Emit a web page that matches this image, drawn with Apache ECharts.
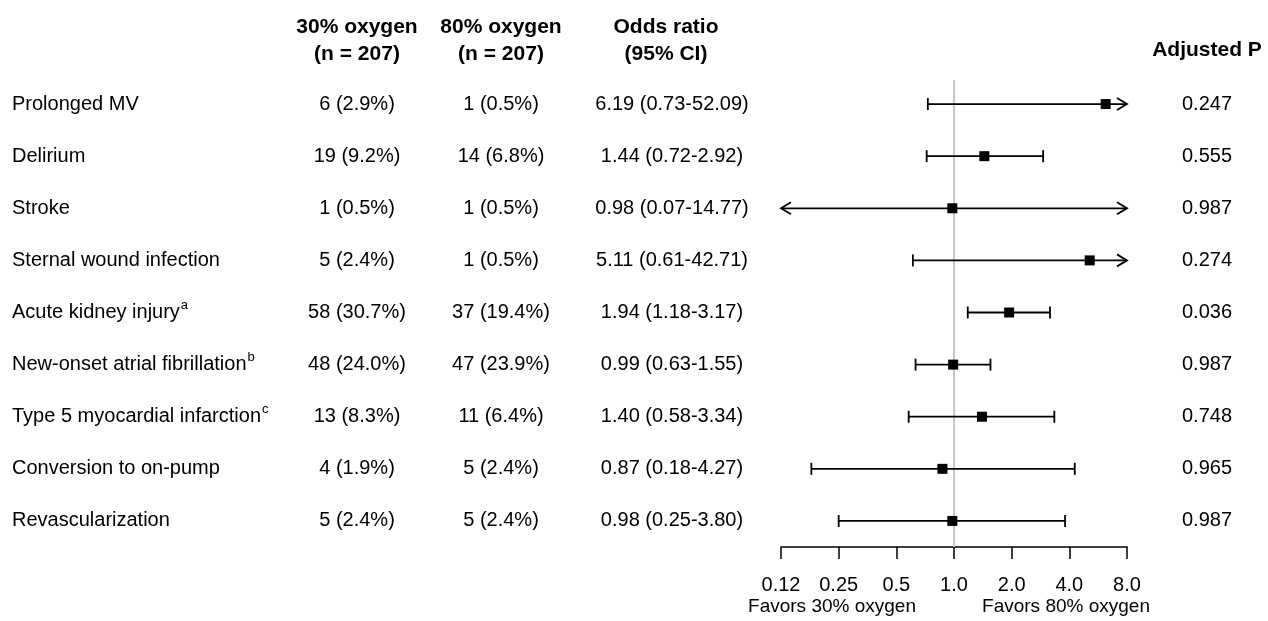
<!DOCTYPE html>
<html>
<head>
<meta charset="utf-8">
<script src="https://cdn.jsdelivr.net/npm/echarts@6/dist/echarts.min.js"></script>
<style>
html,body{margin:0;padding:0;background:#fff;}
#chart{width:1268px;height:621px;}
</style>
</head>
<body>
<div id="chart"></div>
<script>
const categories = ['Prolonged MV','Delirium','Stroke','Sternal wound infection','Acute kidney injury','New-onset atrial fibrillation','Type 5 myocardial infarction','Conversion to on-pump','Revascularization'];
const superscripts = ['','','','','a','b','c','',''];
const group30 = ['6 (2.9%)','19 (9.2%)','1 (0.5%)','5 (2.4%)','58 (30.7%)','48 (24.0%)','13 (8.3%)','4 (1.9%)','5 (2.4%)'];
const group80 = ['1 (0.5%)','14 (6.8%)','1 (0.5%)','1 (0.5%)','37 (19.4%)','47 (23.9%)','11 (6.4%)','5 (2.4%)','5 (2.4%)'];
const orValue = [6.19,1.44,0.98,5.11,1.94,0.99,1.40,0.87,0.98];
const ciLow = [0.73,0.72,0.07,0.61,1.18,0.63,0.58,0.18,0.25];
const ciHigh = [52.09,2.92,14.77,42.71,3.17,1.55,3.34,4.27,3.80];
const adjP = ['0.247','0.555','0.987','0.274','0.036','0.987','0.748','0.965','0.987'];
const tickValues = [0.125,0.25,0.5,1,2,4,8];
const tickLabels = ['0.12','0.25','0.5','1.0','2.0','4.0','8.0'];
const refValue = 1;

const FONT = "'Liberation Sans', Arial, Helvetica, sans-serif";
const ROW_FONT = '20px ' + FONT;
const orText = orValue.map((v,i)=> v.toFixed(2)+' ('+ciLow[i].toFixed(2)+'-'+ciHigh[i].toFixed(2)+')');
const xMin = Math.log2(tickValues[0]);
const xMax = Math.log2(tickValues[tickValues.length-1]);

const forestData = orValue.map((v,i)=>[Math.log2(v), i, Math.log2(ciLow[i]), Math.log2(ciHigh[i])]);

const measureCtx = document.createElement('canvas').getContext('2d');
function textWidth(t, font){ measureCtx.font = font; return measureCtx.measureText(t).width; }

const chart = echarts.init(document.getElementById('chart'));

const gridTop = 78, gridBottom = 74;

chart.setOption({
  animation: false,
  backgroundColor: '#fff',
  grid: [
    {left: 781, right: 141, top: gridTop, bottom: gridBottom},
    {left: 0, right: 0, top: gridTop, bottom: gridBottom}
  ],
  xAxis: [
    {
      gridIndex: 0, type: 'value', min: xMin, max: xMax, interval: 1,
      axisLine: {show: true, lineStyle: {color: '#000', width: 1.5}},
      axisTick: {show: true, length: 12, lineStyle: {color: '#000', width: 1.5}},
      splitLine: {show: false},
      axisLabel: {
        color: '#000', fontSize: 20, fontFamily: FONT, margin: 28,
        formatter: function(v){
          for (let i=0;i<tickValues.length;i++){ if (Math.abs(Math.log2(tickValues[i])-v)<1e-9) return tickLabels[i]; }
          return '';
        }
      }
    },
    {gridIndex: 1, type: 'value', min: 0, max: 1268, show: false}
  ],
  yAxis: [
    {gridIndex: 0, type: 'category', data: categories, inverse: true, show: false},
    {gridIndex: 1, type: 'category', data: categories, inverse: true, show: false}
  ],
  graphic: [
    {type:'text', x: 357, y: 41, style:{text:'30% oxygen\n(n = 207)', fill:'#000', font:'bold 21px '+FONT, align:'center', verticalAlign:'middle', lineHeight: 27}},
    {type:'text', x: 501, y: 41, style:{text:'80% oxygen\n(n = 207)', fill:'#000', font:'bold 21px '+FONT, align:'center', verticalAlign:'middle', lineHeight: 27}},
    {type:'text', x: 666, y: 41, style:{text:'Odds ratio\n(95% CI)', fill:'#000', font:'bold 21px '+FONT, align:'center', verticalAlign:'middle', lineHeight: 27}},
    {type:'text', x: 1207, y: 50, style:{text:'Adjusted P', fill:'#000', font:'bold 21px '+FONT, align:'center', verticalAlign:'middle'}},
    {type:'text', x: 832, y: 607, style:{text:'Favors 30% oxygen', fill:'#000', font:'19px '+FONT, align:'center', verticalAlign:'middle'}},
    {type:'text', x: 1066, y: 607, style:{text:'Favors 80% oxygen', fill:'#000', font:'19px '+FONT, align:'center', verticalAlign:'middle'}}
  ],
  series: [
    {
      type: 'custom', xAxisIndex: 0, yAxisIndex: 0, z: 1, silent: true,
      data: [[Math.log2(refValue)]],
      renderItem: function(params, api){
        const cs = params.coordSys;
        const x = api.coord([api.value(0), 0])[0];
        return {type:'line', shape:{x1:x, y1:cs.y+2, x2:x, y2:cs.y+cs.height}, style:{stroke:'#c8c8c8', lineWidth:2}};
      }
    },
    {
      type: 'custom', xAxisIndex: 0, yAxisIndex: 0, z: 5, silent: true,
      encode: {x: 0, y: 1},
      data: forestData,
      renderItem: function(params, api){
        const est = api.value(0), row = api.value(1), lo = api.value(2), hi = api.value(3);
        const loC = Math.max(lo, xMin), hiC = Math.min(hi, xMax);
        const pLo = api.coord([loC, row]), pHi = api.coord([hiC, row]), pE = api.coord([est, row]);
        const y = pE[1];
        const st = {stroke:'#000', lineWidth:1.8, fill:'none'};
        const ch = [];
        ch.push({type:'line', shape:{x1:pLo[0], y1:y, x2:pHi[0], y2:y}, style:st});
        if (lo < xMin) {
          ch.push({type:'polyline', shape:{points:[[pLo[0]+10,y-6],[pLo[0],y],[pLo[0]+10,y+6]]}, style:st});
        } else {
          ch.push({type:'line', shape:{x1:pLo[0], y1:y-6, x2:pLo[0], y2:y+6}, style:st});
        }
        if (hi > xMax) {
          ch.push({type:'polyline', shape:{points:[[pHi[0]-10,y-6],[pHi[0],y],[pHi[0]-10,y+6]]}, style:st});
        } else {
          ch.push({type:'line', shape:{x1:pHi[0], y1:y-6, x2:pHi[0], y2:y+6}, style:st});
        }
        ch.push({type:'rect', shape:{x:pE[0]-5, y:y-5, width:10, height:10}, style:{fill:'#000'}});
        return {type:'group', children: ch};
      }
    },
    {
      type: 'custom', xAxisIndex: 1, yAxisIndex: 1, z: 5, silent: true,
      encode: {x: 0, y: 1},
      data: categories.map((c,i)=>[0, i]),
      renderItem: function(params, api){
        const i = api.value(1);
        const y = api.coord([0, i])[1];
        const base = {fill:'#000', font: ROW_FONT, verticalAlign:'middle'};
        const ch = [
          {type:'text', style: Object.assign({}, base, {text: categories[i], x: 12, y: y, align:'left'})},
          {type:'text', style: Object.assign({}, base, {text: group30[i], x: 357, y: y, align:'center'})},
          {type:'text', style: Object.assign({}, base, {text: group80[i], x: 501, y: y, align:'center'})},
          {type:'text', style: Object.assign({}, base, {text: orText[i], x: 672, y: y, align:'center'})},
          {type:'text', style: Object.assign({}, base, {text: adjP[i], x: 1207, y: y, align:'center'})}
        ];
        if (superscripts[i]) {
          const w = textWidth(categories[i], ROW_FONT);
          ch.push({type:'text', style:{text: superscripts[i], x: 12 + w + 1, y: y - 7, fill:'#000', font:'13px '+FONT, align:'left', verticalAlign:'middle'}});
        }
        return {type:'group', children: ch};
      }
    }
  ]
});
</script>
</body>
</html>
